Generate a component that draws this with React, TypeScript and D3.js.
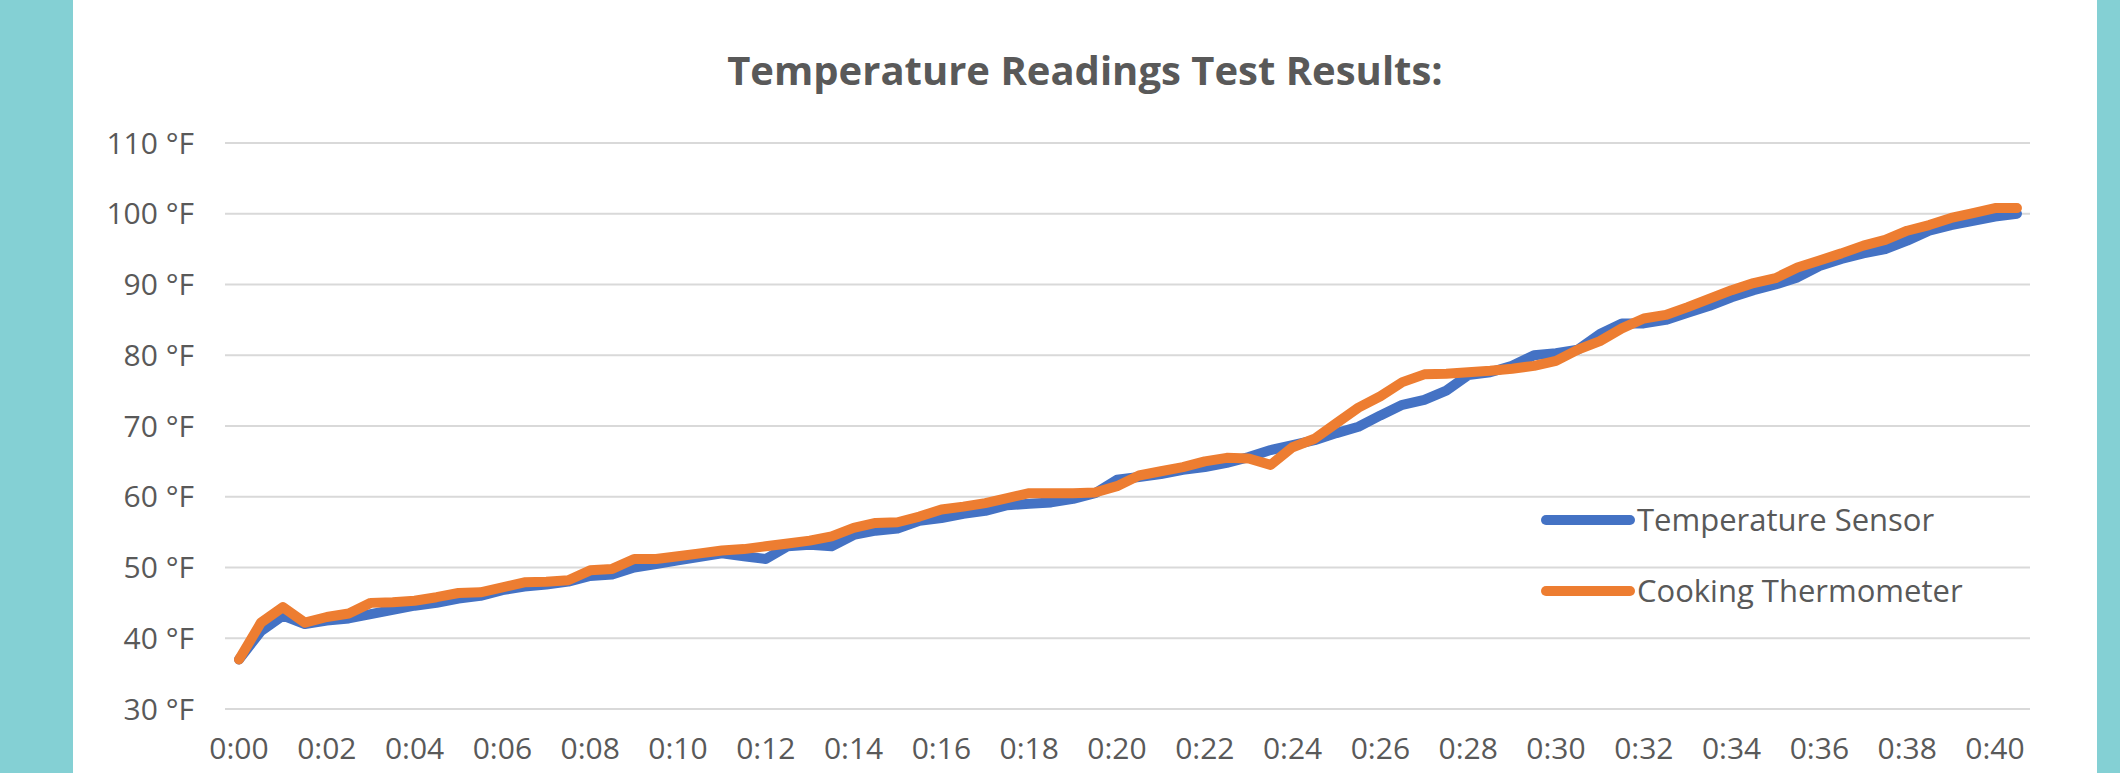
import React from "react";
import * as d3 from "d3";

// readings every 30 seconds, minutes from start
const minutes = d3.range(0, 41, 0.5);

const sensorTemps = [
  37, 41, 43.2, 42.0, 42.5, 42.8, 43.4, 44.0, 44.6, 45.0,
  45.6, 46.0, 46.8, 47.3, 47.6, 48.0, 48.8, 49.0, 50.0, 50.5,
  51.0, 51.5, 52.0, 51.6, 51.2, 53.0, 53.2, 53.0, 54.6, 55.2,
  55.5, 56.6, 57.0, 57.6, 58.0, 58.8, 59.0, 59.2, 59.7, 60.5,
  62.4, 62.8, 63.2, 63.8, 64.2, 64.8, 65.6, 66.6, 67.3, 68.0,
  69.0, 69.9, 71.5, 73.0, 73.7, 75.0, 77.2, 77.6, 78.5, 80.0,
  80.3, 80.8, 83.0, 84.5, 84.5, 85.0, 86.0, 87.0, 88.2, 89.2,
  90.0, 91.0, 92.6, 93.6, 94.4, 95.0, 96.2, 97.6, 98.4, 99.0,
  99.6, 100.0,
];

const thermometerTemps = [
  37, 42.2, 44.4, 42.2, 43.0, 43.5, 45.0, 45.1, 45.3, 45.8,
  46.4, 46.5, 47.2, 47.9, 48.0, 48.2, 49.6, 49.8, 51.2, 51.2,
  51.6, 52.0, 52.4, 52.6, 53.0, 53.4, 53.8, 54.4, 55.6, 56.3,
  56.4, 57.2, 58.2, 58.6, 59.1, 59.8, 60.5, 60.5, 60.5, 60.6,
  61.5, 63.0, 63.6, 64.2, 65.0, 65.5, 65.4, 64.5, 67.0, 68.2,
  70.4, 72.6, 74.2, 76.2, 77.3, 77.4, 77.6, 77.8, 78.1, 78.5,
  79.2, 80.8, 82.0, 83.8, 85.2, 85.7, 86.8, 88.0, 89.2, 90.2,
  90.9, 92.4, 93.4, 94.4, 95.5, 96.3, 97.6, 98.4, 99.4, 100.1,
  100.8, 100.8,
];

const yTicks = [30, 40, 50, 60, 70, 80, 90, 100, 110];
const xTickMinutes = [0, 2, 4, 6, 8, 10, 12, 14, 16, 18, 20, 22, 24, 26, 28, 30, 32, 34, 36, 38, 40];
const xTickLabels = [
  "0:00", "0:02", "0:04", "0:06", "0:08", "0:10", "0:12", "0:14", "0:16", "0:18", "0:20",
  "0:22", "0:24", "0:26", "0:28", "0:30", "0:32", "0:34", "0:36", "0:38", "0:40",
];

const seriesNames = ["Temperature Sensor", "Cooking Thermometer"];
const seriesColors = ["#4472c4", "#ed7d31"];

const W = 2120;
const H = 773;
const font = "'Open Sans', sans-serif";
const textColor = "#595959";

export default function App() {
  const plotLeft = 225;
  const plotRight = 2030;

  const x = d3.scaleLinear().domain([0, 40]).range([239, 1995]);
  const y = d3.scaleLinear().domain([30, 110]).range([709, 143]);

  const line = d3
    .line<number>()
    .x((_, i) => x(minutes[i]))
    .y((d) => y(d));

  const series = [sensorTemps, thermometerTemps];

  return (
    <svg
      width={W}
      height={H}
      style={{ position: "absolute", left: 0, top: 0, display: "block" }}
    >
      <rect x={0} y={0} width={W} height={H} fill="#84d0d4" />
      <rect x={73} y={0} width={2024} height={H} fill="#ffffff" />

      <text
        x={1085}
        y={85}
        textAnchor="middle"
        fontFamily={font}
        fontWeight="bold"
        fontSize={40}
        fill={textColor}
      >
        Temperature Readings Test Results:
      </text>

      {/* gridlines + y labels */}
      {yTicks.map((t) => (
        <g key={t}>
          <line x1={plotLeft} x2={plotRight} y1={y(t)} y2={y(t)} stroke="#d9d9d9" strokeWidth={2} />
          <text
            x={194}
            y={y(t)}
            dy="0.35em"
            textAnchor="end"
            fontFamily={font}
            fontSize={30}
            fill={textColor}
          >
            {t} °F
          </text>
        </g>
      ))}

      {/* x labels */}
      {xTickMinutes.map((m, i) => (
        <text
          key={m}
          x={x(m)}
          y={759}
          textAnchor="middle"
          fontFamily={font}
          fontSize={30}
          fill={textColor}
        >
          {xTickLabels[i]}
        </text>
      ))}

      {series.map((s, i) => (
        <path
          key={seriesNames[i]}
          d={line(s) || ""}
          fill="none"
          stroke={seriesColors[i]}
          strokeWidth={10}
          strokeLinejoin="round"
          strokeLinecap="round"
        />
      ))}

      {/* legend */}
      {seriesNames.map((name, i) => {
        const ly = 520 + i * 71;
        return (
          <g key={name}>
            <line
              x1={1546}
              x2={1630}
              y1={ly}
              y2={ly}
              stroke={seriesColors[i]}
              strokeWidth={10}
              strokeLinecap="round"
            />
            <text
              x={1637}
              y={ly}
              dy="0.35em"
              fontFamily={font}
              fontSize={31}
              fill={textColor}
            >
              {name}
            </text>
          </g>
        );
      })}
    </svg>
  );
}
